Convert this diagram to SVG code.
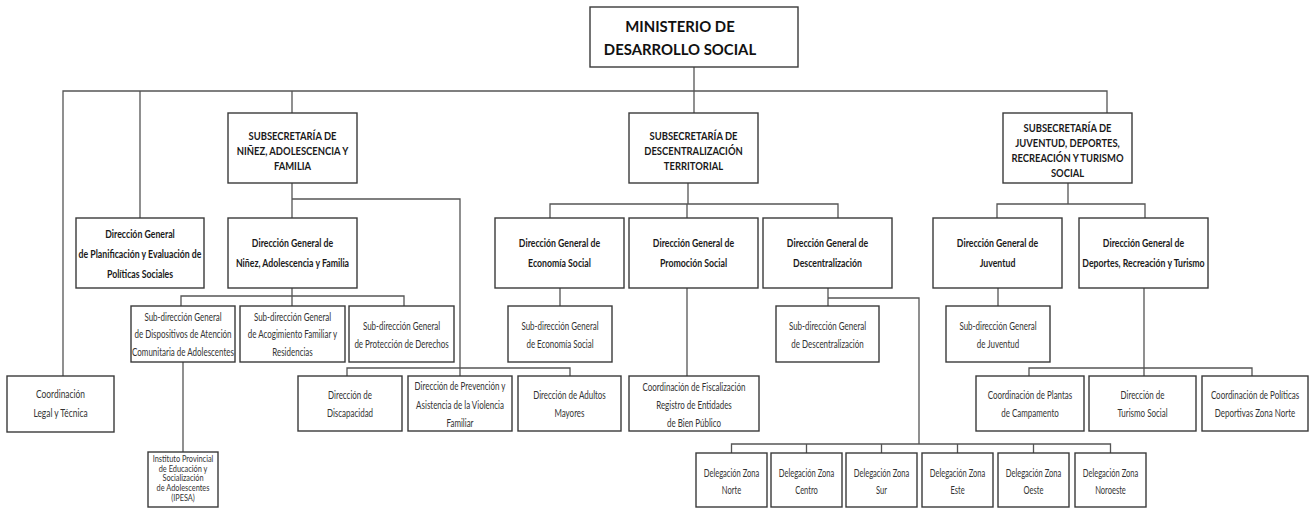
<svg xmlns="http://www.w3.org/2000/svg" width="1314" height="508" viewBox="0 0 1314 508">
<style>
.box{fill:#fff;stroke:#3a3a3a;stroke-width:1.4}
.ln{fill:none;stroke:#555;stroke-width:1.3}
text{font-family:Lato,"Liberation Sans",sans-serif;text-anchor:middle}
.ti{font-size:16px;font-weight:bold;fill:#111}
.sb{font-size:11.5px;font-weight:bold;fill:#1a1a1a}
.dg{font-size:11.5px;font-weight:bold;fill:#1a1a1a}
.sd{font-size:10.5px;fill:#333}
.ip{font-size:9px;fill:#333}
</style>
<rect width="1314" height="508" fill="#fff"/>
<g id="connectors">
<path class="ln" d="M694 67V91M63 376V91H1107V113M140 91V218M292 91V113M694 91V113"/>
<path class="ln" d="M292 183V199H460V376M292 199V218"/>
<path class="ln" d="M292 288V296M181 306V296H404V306M292 296V306"/>
<path class="ln" d="M347 376V368H570V376M183 362V452"/>
<path class="ln" d="M688 183V204M550 218V204H838V218M687 204V218M560 288V306M687 288V376"/>
<path class="ln" d="M828 288V306M828 298H919V444M731.5 453V444H1110.5V453M806.5 444V453M881.5 444V453M957.5 444V453M1033.5 444V453"/>
<path class="ln" d="M1068 183V204M997 218V204H1145V218M998 288V306M1144 288V376M1029 376V368H1252V376"/>
</g>
<g id="ministerio"><rect class="box" x="590" y="7" width="208" height="60"/>
<text class="ti" transform="translate(680 0) scale(.93 1)"><tspan x="0" y="32">MINISTERIO DE</tspan><tspan x="0" y="55">DESARROLLO SOCIAL</tspan></text></g>
<g id="subsec-ninez"><rect class="box" x="228" y="113" width="129" height="70"/>
<text class="sb" transform="translate(292.5 0) scale(.82 1)"><tspan x="0" y="140">SUBSECRETARÍA DE</tspan><tspan x="0" y="155">NIÑEZ, ADOLESCENCIA Y</tspan><tspan x="0" y="170">FAMILIA</tspan></text></g>
<g id="subsec-desc"><rect class="box" x="629" y="113" width="129" height="70"/>
<text class="sb" transform="translate(693.5 0) scale(.82 1)"><tspan x="0" y="140">SUBSECRETARÍA DE</tspan><tspan x="0" y="155">DESCENTRALIZACIÓN</tspan><tspan x="0" y="170">TERRITORIAL</tspan></text></g>
<g id="subsec-juventud"><rect class="box" x="1003" y="113" width="129" height="70"/>
<text class="sb" transform="translate(1067.5 0) scale(.82 1)"><tspan x="0" y="132">SUBSECRETARÍA DE</tspan><tspan x="0" y="147">JUVENTUD, DEPORTES,</tspan><tspan x="0" y="162">RECREACIÓN Y TURISMO</tspan><tspan x="0" y="177">SOCIAL</tspan></text></g>
<g id="dg-planificacion"><rect class="box" x="76" y="218" width="128" height="70"/>
<text class="dg" transform="translate(140 0) scale(.76 1)"><tspan x="0" y="238">Dirección General</tspan><tspan x="0" y="258">de Planificación y Evaluación de</tspan><tspan x="0" y="278">Políticas Sociales</tspan></text></g>
<g id="dg-ninez"><rect class="box" x="228" y="218" width="129" height="70"/>
<text class="dg" transform="translate(292.5 0) scale(.76 1)"><tspan x="0" y="247">Dirección General de</tspan><tspan x="0" y="267">Niñez, Adolescencia y Familia</tspan></text></g>
<g id="dg-economia"><rect class="box" x="495" y="218" width="129" height="70"/>
<text class="dg" transform="translate(559.5 0) scale(.76 1)"><tspan x="0" y="247">Dirección General de</tspan><tspan x="0" y="267">Economía Social</tspan></text></g>
<g id="dg-promocion"><rect class="box" x="629" y="218" width="129" height="70"/>
<text class="dg" transform="translate(693.5 0) scale(.76 1)"><tspan x="0" y="247">Dirección General de</tspan><tspan x="0" y="267">Promoción Social</tspan></text></g>
<g id="dg-descentralizacion"><rect class="box" x="763" y="218" width="129" height="70"/>
<text class="dg" transform="translate(827.5 0) scale(.76 1)"><tspan x="0" y="247">Dirección General de</tspan><tspan x="0" y="267">Descentralización</tspan></text></g>
<g id="dg-juventud"><rect class="box" x="933" y="218" width="129" height="70"/>
<text class="dg" transform="translate(997.5 0) scale(.76 1)"><tspan x="0" y="247">Dirección General de</tspan><tspan x="0" y="267">Juventud</tspan></text></g>
<g id="dg-deportes"><rect class="box" x="1079" y="218" width="129" height="70"/>
<text class="dg" transform="translate(1143.5 0) scale(.76 1)"><tspan x="0" y="247">Dirección General de</tspan><tspan x="0" y="267">Deportes, Recreación y Turismo</tspan></text></g>
<g id="sd-dispositivos"><rect class="box" x="131" y="306" width="104" height="56"/>
<text class="sd" transform="translate(183 0) scale(.76 1)"><tspan x="0" y="321">Sub-dirección General</tspan><tspan x="0" y="338.5">de Dispositivos de Atención</tspan><tspan x="0" y="356">Comunitaria de Adolescentes</tspan></text></g>
<g id="sd-acogimiento"><rect class="box" x="240" y="306" width="105" height="56"/>
<text class="sd" transform="translate(292.5 0) scale(.76 1)"><tspan x="0" y="321">Sub-dirección General</tspan><tspan x="0" y="338.5">de Acogimiento Familiar y</tspan><tspan x="0" y="356">Residencias</tspan></text></g>
<g id="sd-proteccion"><rect class="box" x="349" y="306" width="105" height="56"/>
<text class="sd" transform="translate(401.5 0) scale(.76 1)"><tspan x="0" y="330">Sub-dirección General</tspan><tspan x="0" y="348">de Protección de Derechos</tspan></text></g>
<g id="sd-economia"><rect class="box" x="508" y="306" width="104" height="56"/>
<text class="sd" transform="translate(560 0) scale(.76 1)"><tspan x="0" y="330">Sub-dirección General</tspan><tspan x="0" y="348">de Economía Social</tspan></text></g>
<g id="sd-descentralizacion"><rect class="box" x="776" y="306" width="103" height="56"/>
<text class="sd" transform="translate(827.5 0) scale(.76 1)"><tspan x="0" y="330">Sub-dirección General</tspan><tspan x="0" y="348">de Descentralización</tspan></text></g>
<g id="sd-juventud"><rect class="box" x="946" y="306" width="104" height="56"/>
<text class="sd" transform="translate(998 0) scale(.76 1)"><tspan x="0" y="330">Sub-dirección General</tspan><tspan x="0" y="348">de Juventud</tspan></text></g>
<g id="coord-legal"><rect class="box" x="7" y="376" width="107" height="56"/>
<text class="sd" transform="translate(60.5 0) scale(.8 1)"><tspan x="0" y="398">Coordinación</tspan><tspan x="0" y="417">Legal y Técnica</tspan></text></g>
<g id="dir-discapacidad"><rect class="box" x="298" y="376" width="104" height="55"/>
<text class="sd" transform="translate(350 0) scale(.76 1)"><tspan x="0" y="399">Dirección de</tspan><tspan x="0" y="417">Discapacidad</tspan></text></g>
<g id="dir-prevencion"><rect class="box" x="408" y="376" width="104" height="55"/>
<text class="sd" transform="translate(460 0) scale(.76 1)"><tspan x="0" y="390">Dirección de Prevención y</tspan><tspan x="0" y="409">Asistencia de la Violencia</tspan><tspan x="0" y="427">Familiar</tspan></text></g>
<g id="dir-adultos"><rect class="box" x="518" y="376" width="103" height="55"/>
<text class="sd" transform="translate(569.5 0) scale(.76 1)"><tspan x="0" y="399">Dirección de Adultos</tspan><tspan x="0" y="417">Mayores</tspan></text></g>
<g id="coord-fiscalizacion"><rect class="box" x="629" y="376" width="130" height="55"/>
<text class="sd" transform="translate(694 0) scale(.76 1)"><tspan x="0" y="391">Coordinación de Fiscalización</tspan><tspan x="0" y="409">Registro de Entidades</tspan><tspan x="0" y="427">de Bien Público</tspan></text></g>
<g id="coord-plantas"><rect class="box" x="976" y="376" width="108" height="55"/>
<text class="sd" transform="translate(1030 0) scale(.76 1)"><tspan x="0" y="399">Coordinación de Plantas</tspan><tspan x="0" y="417">de Campamento</tspan></text></g>
<g id="dir-turismo"><rect class="box" x="1089" y="376" width="107" height="55"/>
<text class="sd" transform="translate(1142.5 0) scale(.76 1)"><tspan x="0" y="399">Dirección de</tspan><tspan x="0" y="417">Turismo Social</tspan></text></g>
<g id="coord-politicas"><rect class="box" x="1202" y="376" width="106" height="55"/>
<text class="sd" transform="translate(1255 0) scale(.76 1)"><tspan x="0" y="399">Coordinación de Políticas</tspan><tspan x="0" y="417">Deportivas Zona Norte</tspan></text></g>
<g id="ipesa"><rect class="box" x="148" y="452" width="70" height="55"/>
<text class="ip" transform="translate(183 0) scale(.82 1)"><tspan x="0" y="462">Instituto Provincial</tspan><tspan x="0" y="472">de Educación y</tspan><tspan x="0" y="481.5">Socialización</tspan><tspan x="0" y="491">de Adolescentes</tspan><tspan x="0" y="501">(IPESA)</tspan></text></g>
<g id="del-norte"><rect class="box" x="696" y="453" width="71" height="54"/>
<text class="sd" transform="translate(731.5 0) scale(.72 1)"><tspan x="0" y="477">Delegación Zona</tspan><tspan x="0" y="494">Norte</tspan></text></g>
<g id="del-centro"><rect class="box" x="771" y="453" width="71" height="54"/>
<text class="sd" transform="translate(806.5 0) scale(.72 1)"><tspan x="0" y="477">Delegación Zona</tspan><tspan x="0" y="494">Centro</tspan></text></g>
<g id="del-sur"><rect class="box" x="846" y="453" width="71" height="54"/>
<text class="sd" transform="translate(881.5 0) scale(.72 1)"><tspan x="0" y="477">Delegación Zona</tspan><tspan x="0" y="494">Sur</tspan></text></g>
<g id="del-este"><rect class="box" x="922" y="453" width="71" height="54"/>
<text class="sd" transform="translate(957.5 0) scale(.72 1)"><tspan x="0" y="477">Delegación Zona</tspan><tspan x="0" y="494">Este</tspan></text></g>
<g id="del-oeste"><rect class="box" x="998" y="453" width="71" height="54"/>
<text class="sd" transform="translate(1033.5 0) scale(.72 1)"><tspan x="0" y="477">Delegación Zona</tspan><tspan x="0" y="494">Oeste</tspan></text></g>
<g id="del-noroeste"><rect class="box" x="1075" y="453" width="71" height="54"/>
<text class="sd" transform="translate(1110.5 0) scale(.72 1)"><tspan x="0" y="477">Delegación Zona</tspan><tspan x="0" y="494">Noroeste</tspan></text></g>
</svg>
